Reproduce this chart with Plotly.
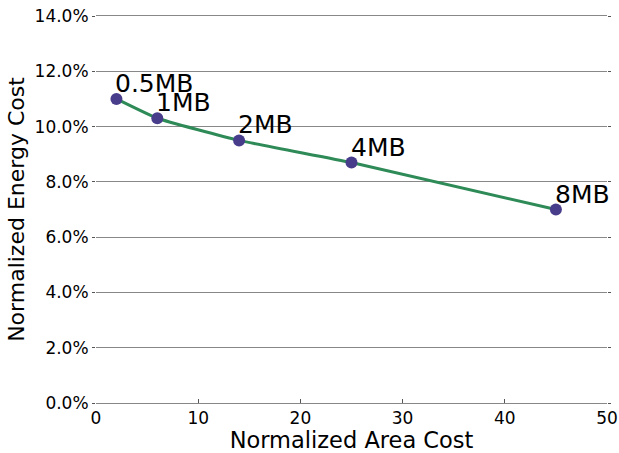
import plotly.graph_objects as go

area_cost = [2, 6, 14, 25, 45]
energy_cost = [0.110, 0.103, 0.095, 0.087, 0.070]
labels = ["0.5MB", "1MB", "2MB", "4MB", "8MB"]
y_ticks = [0.0, 0.02, 0.04, 0.06, 0.08, 0.10, 0.12, 0.14]
x_ticks = [0, 10, 20, 30, 40, 50]

fig = go.Figure()
fig.add_trace(go.Scatter(
    x=area_cost, y=energy_cost, mode="lines",
    line=dict(color="#2e8b57", width=3, shape="spline", smoothing=0.4),
    showlegend=False, hoverinfo="skip"))
fig.add_trace(go.Scatter(
    x=area_cost, y=energy_cost, mode="markers",
    marker=dict(color="#483d8b", size=12, line=dict(width=0)),
    showlegend=False))

for x, y, t in zip(area_cost, energy_cost, labels):
    fig.add_annotation(x=x, y=y, text=t, showarrow=False,
                       xanchor="left", yanchor="bottom", xshift=-3, yshift=-1,
                       font=dict(size=25, color="black", family="DejaVu Sans"))

fig.update_layout(
    width=619, height=453,
    margin=dict(l=96, r=12, t=16, b=50),
    plot_bgcolor="white", paper_bgcolor="white",
    font=dict(family="DejaVu Sans", color="black"),
)
fig.update_xaxes(
    range=[0, 50], tickvals=x_ticks, showgrid=False, zeroline=False,
    showline=True, linecolor="#888888", linewidth=1, mirror=True,
    ticks="inside", ticklen=4, tickcolor="#555555",
    tickfont=dict(size=17), automargin=False,
    title=dict(text="Normalized Area Cost", font=dict(size=22.5), standoff=6),
)
fig.update_yaxes(
    range=[0, 0.14], tickvals=y_ticks, tickformat=".1%",
    showgrid=True, gridcolor="#888888", gridwidth=1, zeroline=False,
    showline=False, mirror="ticks",
    ticks="outside", ticklen=3, tickcolor="#555555",
    tickfont=dict(size=17), automargin=False,
    title=dict(text="Normalized Energy Cost", font=dict(size=22), standoff=3),
)

fig.write_html("out.html")
